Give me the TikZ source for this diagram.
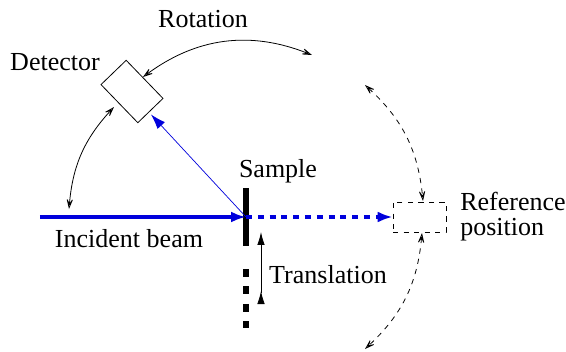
\documentclass[tikz,border=0pt]{standalone}
\usepackage{fontspec}
\setmainfont{Liberation Serif}
\usepackage{xcolor}
\usetikzlibrary{arrows.meta, positioning}
\definecolor{beamblue}{RGB}{0,0,220}

\begin{document}
\begin{tikzpicture}[x=0.02cm, y=-0.02cm,
  lbl/.style={inner sep=0pt, font=\fontsize{14.8}{14.2}\selectfont},
  thin line/.style={line width=0.45pt},
  swing/.style={thin line, {Stealth[fill=none, length=0.26cm, width=0.17cm, inset=0.15cm]}-{Stealth[fill=none, length=0.26cm, width=0.17cm, inset=0.15cm]}},
  beam/.style={beamblue, line width=2pt, -{Latex[length=0.3cm, width=0.22cm]}},
  refl/.style={beamblue, line width=0.4pt, -{Latex[length=0.3cm, width=0.2cm]}},
  bar/.style={black, line width=0.12cm}
]
\useasboundingbox (0,0) rectangle (566,352);

\node[fill=black, inner sep=0pt, minimum width=0.12cm, minimum height=1.16cm] (sample) at (246,217) {};
\node[draw, thin line, inner sep=0pt, minimum width=1.06cm, minimum height=0.7cm, rotate=-46] (detector) at (132,91.5) {};
\node[draw, thin line, dashed, inner sep=0pt, minimum width=1.06cm, minimum height=0.6cm] (refpos) at (419.5,217) {};

\node[lbl] (rotation) at (203,19) {Rotation};
\node[lbl] (detlabel) at (55,62) {Detector};
\node[lbl] (samplelabel) at (278,171) {Sample};
\node[lbl] (incident) at (129,239) {Incident beam};
\node[lbl] (translation) at (328,275) {Translation};
\node[lbl, align=left, anchor=west] (reflabel) at (460,217) {Reference\\position};

\coordinate (beamstart) at (40,217);
\coordinate (reflend) at (151,114.5);
\coordinate (rota) at (143,77);
\coordinate (rotb) at (312,55);
\coordinate (lefta) at (69,209);
\coordinate (leftb) at (114,107);
\coordinate (upa) at (365,85);
\coordinate (upb) at (423,201);
\coordinate (lowa) at (422,233);
\coordinate (lowb) at (365,349);
\coordinate (barfrom) at (246,269);
\coordinate (barto) at (246,328);
\coordinate (movefrom) at (261,304);
\coordinate (moveto) at (261,232);

\draw[beam] (beamstart) -- (sample.center);
\draw[beam, dash pattern=on 0.12cm off 0.116cm] (sample.center) -- (refpos.west);
\draw[refl] (sample.center) -- (reflend);

\draw[swing] (rota) to[bend left=29] (rotb);
\draw[swing] (lefta) to[bend left=19] (leftb);
\draw[swing, dashed] (upa) to[bend left=21] (upb);
\draw[swing, dashed] (lowa) to[bend left=21] (lowb);

\draw[bar, dash pattern=on 0.16cm off 0.19cm] (barfrom) -- (barto);
\draw[thin line, {Latex[reversed, length=0.26cm, width=0.15cm]}-{Latex[length=0.26cm, width=0.15cm]}] (movefrom) -- (moveto);
\end{tikzpicture}
\end{document}
